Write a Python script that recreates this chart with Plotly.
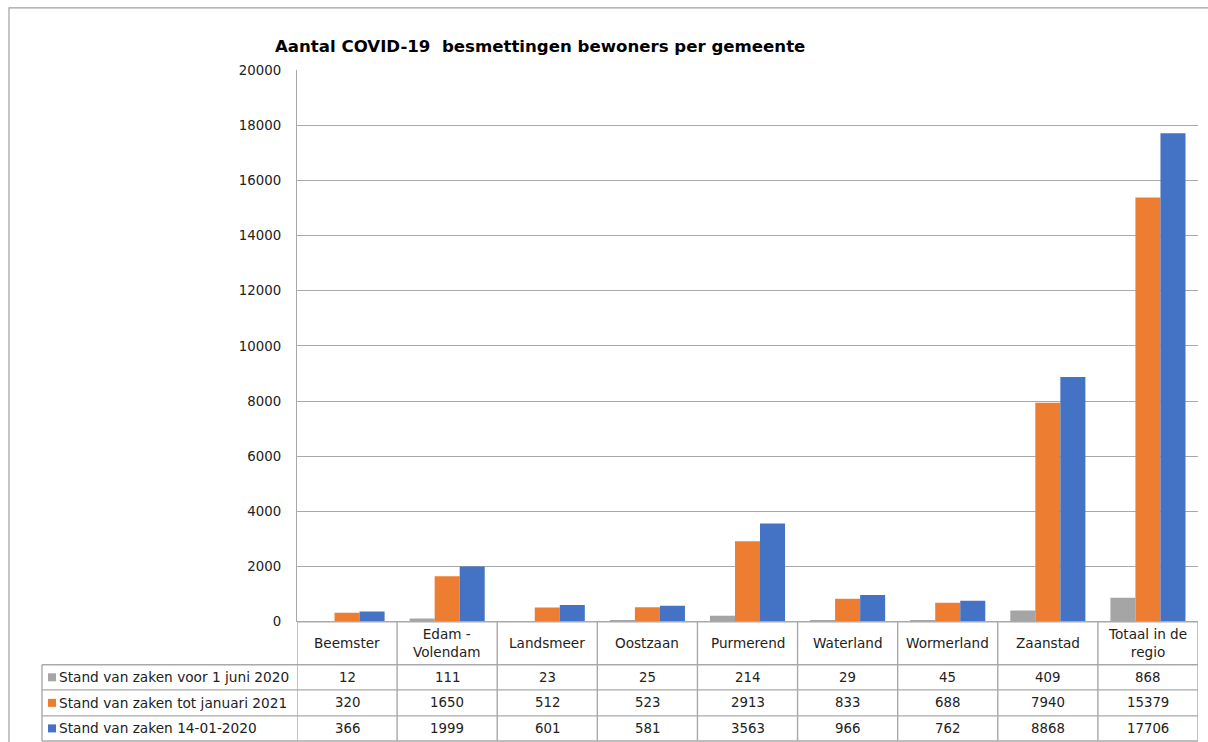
import plotly.graph_objects as go

categories = ["Beemster", "Edam -<br>Volendam", "Landsmeer", "Oostzaan", "Purmerend",
              "Waterland", "Wormerland", "Zaanstad", "Totaal in de<br>regio"]
series_names = ["Stand van zaken voor 1 juni 2020",
                "Stand van zaken tot januari 2021",
                "Stand van zaken 14-01-2020"]
voor_1_juni_2020 = [12, 111, 23, 25, 214, 29, 45, 409, 868]
tot_januari_2021 = [320, 1650, 512, 523, 2913, 833, 688, 7940, 15379]
stand_14_01_2020 = [366, 1999, 601, 581, 3563, 966, 762, 8868, 17706]
colors = ["#A5A5A5", "#ED7D31", "#4472C4"]
y_ticks = list(range(0, 20001, 2000))

W, H = 1208, 752
FONT = "DejaVu Sans"
TXT = "#222222"
GRID = "#A9A9A9"
SY, OY = 0.978, 7.6   # vertical calibration of the rendered page


def px(x):
    return x / W


def py(y):
    return 1 - ((y - OY) / SY) / H


fig = go.Figure()
all_series = [voor_1_juni_2020, tot_januari_2021, stand_14_01_2020]
x_idx = list(range(len(categories)))
for name, vals, col in zip(series_names, all_series, colors):
    fig.add_trace(go.Bar(x=x_idx, y=vals, name=name, marker_color=col,
                         marker_line_width=0, showlegend=False))

plot_left, plot_right, plot_top, plot_bottom = 297, 1198, 70.5, 621

shapes = []
shapes.append(dict(type="rect", xref="paper", yref="paper",
                   x0=px(9), x1=px(1240), y0=py(8.5), y1=py(790),
                   line=dict(color="#A0A0A0", width=1.2)))
row_lines = [664, 689, 715, 740]
for yl in row_lines:
    shapes.append(dict(type="line", xref="paper", yref="paper",
                       x0=px(42), x1=px(plot_right), y0=py(yl), y1=py(yl),
                       line=dict(color=GRID, width=1.4)))
shapes.append(dict(type="line", xref="paper", yref="paper",
                   x0=px(plot_left), x1=px(plot_right), y0=py(plot_bottom), y1=py(plot_bottom),
                   line=dict(color=GRID, width=1.4)))
for i in range(len(categories) + 1):
    shapes.append(dict(type="line", xref="x", yref="paper",
                       x0=i - 0.5, x1=i - 0.5, y0=py(plot_bottom), y1=py(740),
                       line=dict(color=GRID, width=1.4)))
shapes.append(dict(type="line", xref="paper", yref="paper",
                   x0=px(42), x1=px(42), y0=py(664), y1=py(740),
                   line=dict(color=GRID, width=1.4)))

annotations = []
annotations.append(dict(text="<b>Aantal COVID-19&nbsp; besmettingen bewoners per gemeente</b>",
                        xref="paper", yref="paper", x=px(540), y=py(47),
                        xanchor="center", yanchor="middle", showarrow=False,
                        font=dict(family=FONT, size=16.6, color="#000000")))
for i, c in enumerate(categories):
    annotations.append(dict(text=c, xref="x", yref="paper", x=i, y=py(642),
                            xanchor="center", yanchor="middle", showarrow=False,
                            font=dict(family=FONT, size=13.6, color=TXT)))
row_centers = [676.5, 702, 727.5]
for r, (name, vals, col) in enumerate(zip(series_names, all_series, colors)):
    yc = row_centers[r]
    shapes.append(dict(type="rect", xref="paper", yref="paper",
                       x0=px(48), x1=px(56), y0=py(yc - 4), y1=py(yc + 4),
                       fillcolor=col, line=dict(width=0)))
    annotations.append(dict(text=name, xref="paper", yref="paper", x=px(57), y=py(yc),
                            xanchor="left", yanchor="middle", showarrow=False,
                            font=dict(family=FONT, size=13.7, color=TXT)))
    for i, v in enumerate(vals):
        annotations.append(dict(text=str(v), xref="x", yref="paper", x=i, y=py(yc),
                                xanchor="center", yanchor="middle", showarrow=False,
                                font=dict(family=FONT, size=13.3, color=TXT)))

fig.update_layout(
    width=W, height=H,
    margin=dict(l=0, r=0, t=0, b=0),
    paper_bgcolor="white", plot_bgcolor="white",
    barmode="group", bargap=0.25, bargroupgap=0,
    xaxis=dict(domain=[px(plot_left), px(plot_right)], range=[-0.5, len(categories) - 0.5],
               showticklabels=False, showgrid=False, zeroline=False, showline=False,
               fixedrange=True),
    yaxis=dict(domain=[py(plot_bottom), py(plot_top)], range=[0, 20000],
               tickvals=y_ticks, ticktext=[str(t) for t in y_ticks],
               showgrid=True, gridcolor=GRID, gridwidth=1.4, zeroline=False,
               showline=True, linecolor=GRID, linewidth=1.4,
               ticks="", ticklabelstandoff=12,
               tickfont=dict(family=FONT, size=13.3, color=TXT), fixedrange=True),
    shapes=shapes, annotations=annotations,
    font=dict(family=FONT),
)

fig.write_html("out.html", config={"displayModeBar": False},
               post_script="document.body.style.margin='0';document.body.style.overflow='hidden';")
